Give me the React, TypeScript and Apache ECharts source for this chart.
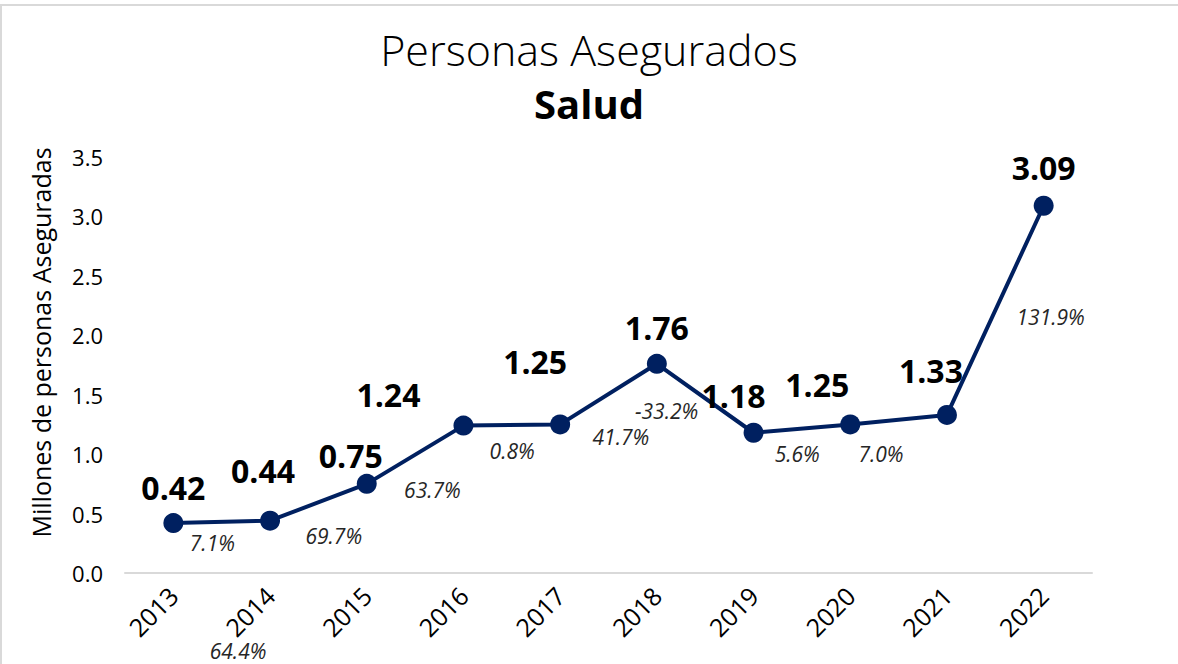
import React, { useEffect, useRef } from "react";
import * as echarts from "echarts";

const years = ["2013", "2014", "2015", "2016", "2017", "2018", "2019", "2020", "2021", "2022"];
const insured = [0.42, 0.44, 0.75, 1.24, 1.25, 1.76, 1.18, 1.25, 1.33, 3.09];
const growthLabels = ["7.1%", "64.4%", "69.7%", "63.7%", "0.8%", "41.7%", "-33.2%", "5.6%", "7.0%", "131.9%"];
const yTicks = [0, 0.5, 1, 1.5, 2, 2.5, 3, 3.5];

// label placement (layout only)
const valueOffsets = [[0, -36], [-7, -50], [-16, -28], [-75, -31], [-25, -63], [0, -36], [-20, -37], [-33, -40], [-16, -44], [0, -38]];
const growthOffsets = [[39, 20], [-32, 130], [-33, 52], [-31, 64], [-48, 27], [-36, 73], [-87, -22], [-53, 30], [-66, 39], [7, 111]];

const FONT = "'Open Sans', 'Noto Sans', sans-serif";

export default function App() {
  const ref = useRef<HTMLDivElement>(null);
  useEffect(() => {
    const chart = echarts.init(ref.current!, null, { renderer: "svg" });
    chart.setOption({
      animation: false,
      backgroundColor: "#ffffff",
      textStyle: { fontFamily: FONT },
      graphic: [
        {
          type: "rect",
          shape: { x: 1, y: 5, width: 1300, height: 800 },
          style: { fill: "none", stroke: "#d9d9d9", lineWidth: 2 },
          silent: true,
        },
      ],
      title: [
        {
          text: "Personas Asegurados",
          left: "center",
          top: 23,
          textStyle: { fontSize: 43, fontWeight: 300, color: "#000", fontFamily: FONT },
        },
        {
          text: "Salud",
          left: "center",
          top: 78,
          textStyle: { fontSize: 40, fontWeight: "bold", color: "#000", fontFamily: FONT },
        },
      ],
      grid: { left: 125, right: 86, top: 157, bottom: 91 },
      xAxis: {
        type: "category",
        data: years,
        boundaryGap: true,
        axisLine: { show: true, lineStyle: { color: "#d9d9d9", width: 2 } },
        axisTick: { show: false },
        axisLabel: { rotate: 45, margin: 18, fontSize: 25, color: "#000", fontFamily: FONT },
      },
      yAxis: {
        type: "value",
        min: yTicks[0],
        max: yTicks[yTicks.length - 1],
        interval: 0.5,
        axisLine: { show: false },
        axisTick: { show: false },
        splitLine: { show: false },
        axisLabel: {
          fontSize: 22,
          color: "#000",
          margin: 22,
          fontFamily: FONT,
          formatter: (v: number) => v.toFixed(1),
        },
        name: "Millones de personas Aseguradas",
        nameLocation: "middle",
        nameGap: 72,
        nameTextStyle: { fontSize: 25, color: "#000", fontFamily: FONT, padding: [0, 0, 0, 45] },
      },
      series: [
        {
          type: "line",
          data: insured.map((v, i) => ({
            value: v,
            label: { offset: valueOffsets[i] },
          })),
          symbol: "circle",
          symbolSize: 20,
          lineStyle: { color: "#002060", width: 4 },
          itemStyle: { color: "#002060" },
          label: {
            show: true,
            position: "inside",
            fontSize: 32,
            fontWeight: "bold",
            color: "#000",
            fontFamily: FONT,
            formatter: (p: any) => p.value.toFixed(2),
          },
          z: 3,
        },
        {
          type: "line",
          data: insured.map((v, i) => ({
            value: v,
            label: { offset: growthOffsets[i], formatter: growthLabels[i] },
          })),
          symbol: "circle",
          symbolSize: 2,
          showSymbol: true,
          itemStyle: { color: "transparent" },
          lineStyle: { width: 0, color: "transparent" },
          label: {
            show: true,
            position: "inside",
            fontSize: 21,
            fontStyle: "italic",
            color: "#262626",
            fontFamily: FONT,
          },
          silent: true,
          z: 4,
        },
      ],
    });
    return () => chart.dispose();
  }, []);
  return (
    <div
      ref={ref}
      style={{ position: "absolute", left: 0, top: 0, width: 1178, height: 664 }}
    />
  );
}
